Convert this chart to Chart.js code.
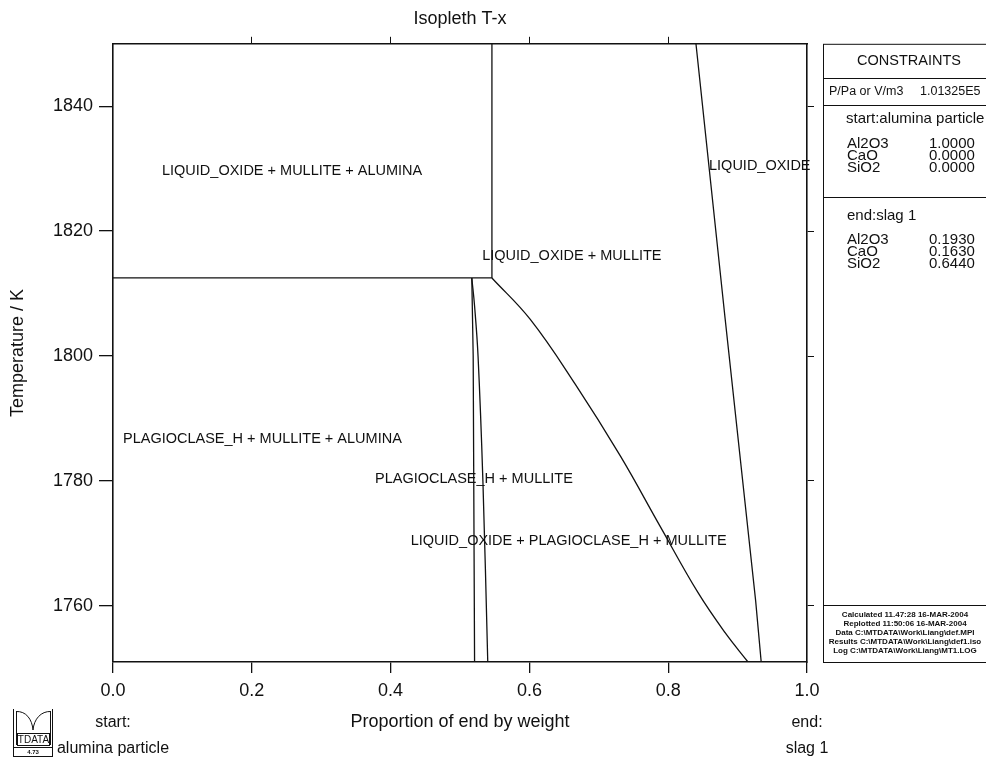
<!DOCTYPE html>
<html>
<head>
<meta charset="utf-8">
<title>Isopleth T-x</title>
<script src="https://cdn.jsdelivr.net/npm/chart.js@4.4.1/dist/chart.umd.min.js"></script>
<style>
  html, body { margin: 0; padding: 0; background: #fff; }
  #wrap { width: 986px; height: 760px; position: relative; overflow: hidden; }
  canvas { display: block; }
</style>
</head>
<body>
<div id="wrap"><canvas id="c" width="986" height="760"></canvas></div>
<script>
const FONT = "'Liberation Sans', Arial, Helvetica, sans-serif";
const ink = '#111';

// ---- axes ----
const xTickValues = [0.0, 0.2, 0.4, 0.6, 0.8, 1.0];
const xTopTickValues = [0.2, 0.4, 0.6, 0.8];
const yTickValues = [1760, 1780, 1800, 1820, 1840];
const xRange = [0, 1];
const tRange = [1751, 1850];

// ---- phase boundaries (x = proportion of end, T in K) ----
// invariant isotherm
const isothermX = [0.0, 0.517, 0.546];
const isothermT = [1812.5, 1812.5, 1812.5];

// mullite boundary above the isotherm
const mulliteX = [0.546, 0.546];
const mulliteT = [1812.5, 1850];

// plagioclase boundaries below the isotherm
const plagioLeftX = [0.517, 0.519, 0.521];
const plagioLeftT = [1812.5, 1800, 1751];

const plagioRightX = [0.517, 0.521, 0.526, 0.533, 0.540];
const plagioRightT = [1812.5, 1808, 1800, 1780, 1751];

// liquid + plagioclase boundary
const liquidusX = [0.546, 0.601, 0.666, 0.731, 0.788, 0.843, 0.882, 0.915];
const liquidusT = [1812.5, 1805.9, 1795.5, 1784.0, 1772.8, 1762.1, 1755.7, 1751];

// single-phase liquid boundary
const oxideX = [0.840, 0.882, 0.926, 0.934];
const oxideT = [1850, 1806, 1760.8, 1751];

// ---- phase field names and their anchor (left edge, vertical centre) ----
const regionNames = [
  'LIQUID_OXIDE + MULLITE + ALUMINA',
  'LIQUID_OXIDE',
  'LIQUID_OXIDE + MULLITE',
  'PLAGIOCLASE_H + MULLITE + ALUMINA',
  'PLAGIOCLASE_H + MULLITE',
  'LIQUID_OXIDE + PLAGIOCLASE_H + MULLITE'
];
const regionX = [0.0706, 0.8588, 0.532, 0.0144, 0.3775, 0.429];
const regionT = [1829.6, 1830.4, 1816.0, 1786.7, 1780.3, 1770.4];

// ---- constraints ----
const components = ['Al2O3', 'CaO', 'SiO2'];
const startName = 'alumina particle';
const endName = 'slag 1';
const startComp = ['1.0000', '0.0000', '0.0000'];
const endComp = ['0.1930', '0.1630', '0.6440'];
const pressureLabel = 'P/Pa or V/m3';
const pressureValue = '1.01325E5';
const runInfo = [
  'Calculated 11.47:28 16-MAR-2004',
  'Replotted 11:50:06 16-MAR-2004',
  'Data C:\\MTDATA\\Work\\Liang\\def.MPI',
  'Results C:\\MTDATA\\Work\\Liang\\def1.iso',
  'Log C:\\MTDATA\\Work\\Liang\\MT1.LOG'
];

function boundary(xs, ts, tension) {
  return {
    data: xs.map((x, i) => ({ x: x, y: ts[i] })),
    showLine: true,
    borderColor: ink,
    borderWidth: 1.3,
    pointRadius: 0,
    pointHoverRadius: 0,
    fill: false,
    tension: tension || 0,
    xAxisID: 'x',
    yAxisID: 'y'
  };
}

function drawLogo(ctx, x0, y0) {
  ctx.save();
  ctx.strokeStyle = ink;
  ctx.fillStyle = ink;
  ctx.lineWidth = 1;
  ctx.beginPath();
  ctx.moveTo(x0 + 0.5, y0); ctx.lineTo(x0 + 0.5, y0 + 48);
  ctx.moveTo(x0 + 3.5, y0 + 2); ctx.lineTo(x0 + 3.5, y0 + 36);
  ctx.moveTo(x0 + 39.5, y0); ctx.lineTo(x0 + 39.5, y0 + 48);
  ctx.moveTo(x0 + 37.5, y0 + 2); ctx.lineTo(x0 + 37.5, y0 + 36);
  // twin arches
  ctx.moveTo(x0 + 3, y0 + 2.5);
  ctx.bezierCurveTo(x0 + 13, y0 + 2, x0 + 19, y0 + 10, x0 + 20, y0 + 21);
  ctx.moveTo(x0 + 38, y0 + 2.5);
  ctx.bezierCurveTo(x0 + 28, y0 + 2, x0 + 21, y0 + 10, x0 + 20, y0 + 21);
  ctx.stroke();
  ctx.strokeRect(x0 + 4.5, y0 + 24.5, 32, 12);
  ctx.strokeRect(x0 + 0.5, y0 + 38.5, 39, 9);
  ctx.textAlign = 'center';
  ctx.textBaseline = 'middle';
  ctx.font = `10px ${FONT}`;
  ctx.fillText('TDATA', x0 + 20.5, y0 + 31);
  ctx.font = `bold 6px ${FONT}`;
  ctx.fillText('4.73', x0 + 20, y0 + 43.5);
  ctx.restore();
}

const overlay = {
  id: 'overlay',
  afterDraw(chart) {
    const { ctx, chartArea: a, scales } = chart;
    const x = scales.x, y = scales.y;
    ctx.save();
    ctx.fillStyle = ink;
    ctx.textBaseline = 'middle';

    // phase field names
    ctx.textAlign = 'left';
    ctx.font = `14.5px ${FONT}`;
    regionNames.forEach((t, i) => {
      ctx.fillText(t, x.getPixelForValue(regionX[i]), y.getPixelForValue(regionT[i]));
    });

    // start / end composition names under the axis ends
    ctx.textAlign = 'center';
    ctx.font = `16px ${FONT}`;
    const x0 = x.getPixelForValue(xRange[0]);
    const x1 = x.getPixelForValue(xRange[1]);
    ctx.fillText('start:', x0, a.bottom + 61);
    ctx.fillText(startName, x0, a.bottom + 87);
    ctx.fillText('end:', x1, a.bottom + 61);
    ctx.fillText(endName, x1, a.bottom + 87);

    // constraints panel
    const pl = a.right + 16.5;
    const pr = chart.width + 10;
    ctx.strokeStyle = ink;
    ctx.lineWidth = 1;
    ctx.strokeRect(pl, a.top + 0.5, pr - pl, a.bottom - a.top);
    ctx.beginPath();
    [78.5, 105.5, 197.5, 605.5].forEach(yy => { ctx.moveTo(pl, yy); ctx.lineTo(pr, yy); });
    ctx.stroke();

    ctx.font = `14.5px ${FONT}`;
    ctx.textAlign = 'center';
    ctx.fillText('CONSTRAINTS', 909, 61);

    ctx.textAlign = 'left';
    ctx.font = `12.5px ${FONT}`;
    ctx.fillText(pressureLabel, 829, 92);
    ctx.fillText(pressureValue, 920, 92);

    ctx.font = `15px ${FONT}`;
    ctx.fillText('start:' + startName, 846, 119);
    components.forEach((c, i) => {
      ctx.fillText(c, 847, 144 + i * 12);
      ctx.fillText(startComp[i], 929, 144 + i * 12);
    });
    ctx.fillText('end:' + endName, 847, 216);
    components.forEach((c, i) => {
      ctx.fillText(c, 847, 240 + i * 12);
      ctx.fillText(endComp[i], 929, 240 + i * 12);
    });

    ctx.textAlign = 'center';
    ctx.font = `bold 8px ${FONT}`;
    runInfo.forEach((t, i) => ctx.fillText(t, 905, 615 + i * 9));

    ctx.restore();
    drawLogo(ctx, 13, 709);
  }
};

const tickFont = { family: FONT, size: 18 };

new Chart(document.getElementById('c'), {
  type: 'scatter',
  data: {
    datasets: [
      boundary(isothermX, isothermT),
      boundary(mulliteX, mulliteT),
      boundary(plagioLeftX, plagioLeftT),
      boundary(plagioRightX, plagioRightT, 0.4),
      boundary(liquidusX, liquidusT, 0.4),
      boundary(oxideX, oxideT)
    ]
  },
  options: {
    responsive: false,
    animation: false,
    events: [],
    layout: { padding: 0 },
    plugins: {
      legend: { display: false },
      tooltip: { enabled: false },
      title: {
        display: true,
        fullSize: false,
        text: 'Isopleth T-x',
        color: ink,
        font: { family: FONT, size: 18, weight: 'normal' },
        padding: { top: 8, bottom: 0 }
      }
    },
    scales: {
      x: {
        type: 'linear', position: 'bottom', min: xRange[0], max: xRange[1],
        afterBuildTicks: s => { s.ticks = xTickValues.map(v => ({ value: v })); },
        afterFit: s => { s.height = 98; },
        ticks: { callback: v => Number(v).toFixed(1), font: tickFont, color: ink, padding: 7, maxRotation: 0, autoSkip: false },
        grid: { drawOnChartArea: false, drawTicks: true, tickLength: 11, color: ink, lineWidth: 1.3 },
        border: { display: true, color: ink, width: 1.6 },
        title: { display: true, text: 'Proportion of end by weight', color: ink, font: tickFont, padding: { top: 0, bottom: 27 } }
      },
      xTop: {
        type: 'linear', position: 'top', min: xRange[0], max: xRange[1],
        afterBuildTicks: s => { s.ticks = xTopTickValues.map(v => ({ value: v })); },
        afterFit: s => { s.height = 14.2; },
        ticks: { callback: () => '', autoSkip: false, padding: 0 },
        grid: { drawOnChartArea: false, drawTicks: true, tickLength: 7, color: ink, lineWidth: 1 },
        border: { display: true, color: ink, width: 1.6 }
      },
      y: {
        type: 'linear', position: 'left', min: tRange[0], max: tRange[1],
        afterBuildTicks: s => { s.ticks = yTickValues.map(v => ({ value: v })); },
        afterFit: s => { s.width = 113; },
        ticks: { callback: v => String(Math.round(v)), font: tickFont, color: ink, padding: 6, autoSkip: false },
        grid: { drawOnChartArea: false, drawTicks: true, tickLength: 14, color: ink, lineWidth: 1.3 },
        border: { display: true, color: ink, width: 1.6 },
        title: { display: true, text: 'Temperature / K', color: ink, font: tickFont, padding: { top: 7, bottom: 0 } }
      },
      yRight: {
        type: 'linear', position: 'right', min: tRange[0], max: tRange[1],
        afterBuildTicks: s => { s.ticks = yTickValues.map(v => ({ value: v })); },
        afterFit: s => { s.width = 179; },
        ticks: { callback: () => '', autoSkip: false, padding: 0 },
        grid: { drawOnChartArea: false, drawTicks: true, tickLength: 7, color: ink, lineWidth: 1 },
        border: { display: true, color: ink, width: 1.6 }
      }
    }
  },
  plugins: [overlay]
});
</script>
</body>
</html>
